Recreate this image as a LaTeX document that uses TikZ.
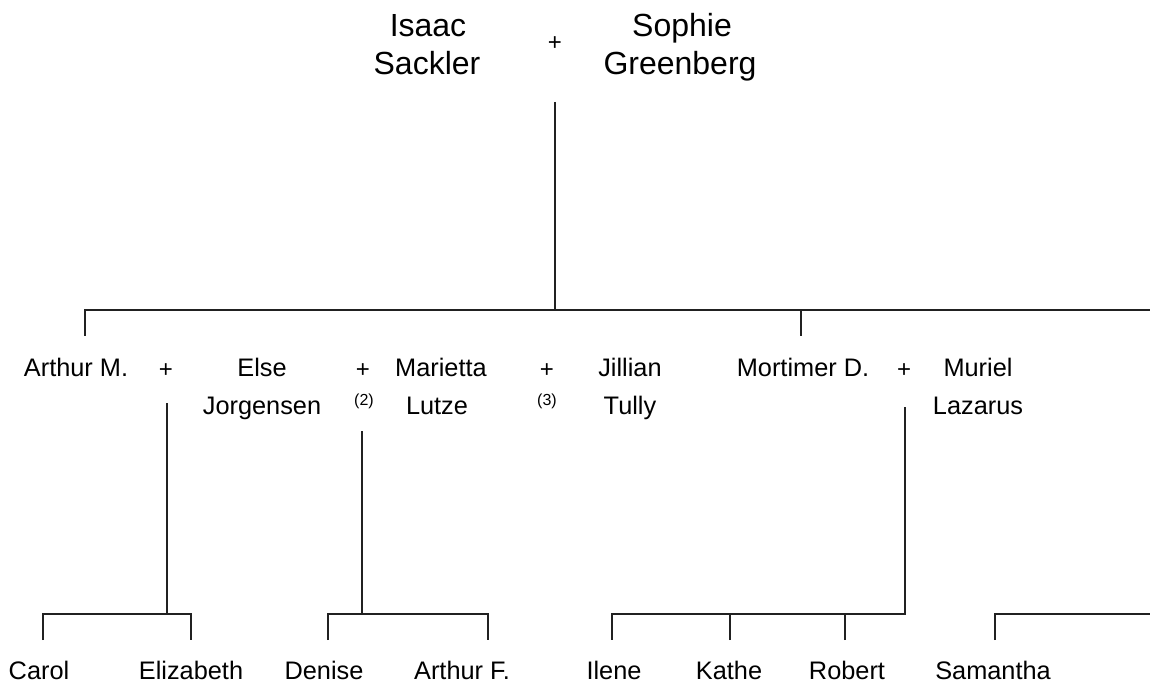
\documentclass[tikz,border=0pt]{standalone}
\usepackage{fontspec}
\setmainfont{Liberation Sans}
\begin{document}
\begin{tikzpicture}[x=0.75pt,y=-0.75pt]

    \tikzset{
      parent/.style={
        anchor=base,
        inner sep=0pt,
        font=\fontsize{24}{28}\selectfont,
      },
      person/.style={
        anchor=base,
        inner sep=0pt,
        font=\fontsize{19}{23}\selectfont,
      },
      wed/.style={
        anchor=center,
        inner sep=0pt,
        font=\fontsize{18}{22}\selectfont,
      },
      wedno/.style={
        anchor=center,
        inner sep=0pt,
        font=\fontsize{12}{14}\selectfont,
      },
      line/.style={
        color=black!87,
        line width=2pt,
      },
    }
    \useasboundingbox (0,0) rectangle (1150,684);

	\node[parent] (isaac) at (428,37) {Isaac};
	\node[parent] (isaacB) at (427,75) {Sackler};
	\node[wed] (wedTop) at (555,44) {+};
	\node[parent] (sophie) at (682,37) {Sophie};
	\node[parent] (sophieB) at (680,75) {Greenberg};

	\node[person] (arthurM) at (76,377) {Arthur M.};
	\node[wed] (wedA) at (166,371) {+};
	\node[person] (else) at (262,377) {Else};
	\node[person] (elseB) at (262,415) {Jorgensen};
	\node[wed] (wedB) at (363,371) {+};
	\node[wedno] (wedBno) at (364,401) {(2)};
	\node[person] (marietta) at (441,377) {Marietta};
	\node[person] (mariettaB) at (437,415) {Lutze};
	\node[wed] (wedC) at (547,371) {+};
	\node[wedno] (wedCno) at (547,401) {(3)};
	\node[person] (jillian) at (630,377) {Jillian};
	\node[person] (jillianB) at (630,415) {Tully};
	\node[person] (mortimer) at (803,377) {Mortimer D.};
	\node[wed] (wedD) at (904,371) {+};
	\node[person] (muriel) at (978,377) {Muriel};
	\node[person] (murielB) at (978,415) {Lazarus};

	\node[person] (carol) at (39,679) {Carol};
	\node[person] (elizabeth) at (191,679) {Elizabeth};
	\node[person] (denise) at (324,679) {Denise};
	\node[person] (arthurF) at (462,679) {Arthur F.};
	\node[person] (ilene) at (614,679) {Ilene};
	\node[person] (kathe) at (729,679) {Kathe};
	\node[person] (robert) at (847,679) {Robert};
	\node[person] (samantha) at (993,679) {Samantha};

	\coordinate (rootTop) at (555,102);
	\coordinate (rootBar) at (555,310);
	\coordinate (barL) at (85,310);
	\coordinate (barR) at (1150,310);
	\coordinate (barM) at (801,310);
	\coordinate (tickArthur) at (85,336);
	\coordinate (tickMortimer) at (801,336);

	\coordinate (dropA) at (167,403);
	\coordinate (dropB) at (362,431);
	\coordinate (dropD) at (905,407);
	\coordinate (dropAend) at (167,614);
	\coordinate (dropBend) at (362,614);
	\coordinate (dropDend) at (905,614);

	\coordinate (tickCarol) at (43,640);
	\coordinate (tickElizabeth) at (191,640);
	\coordinate (tickDenise) at (328,640);
	\coordinate (tickArthurF) at (488,640);
	\coordinate (tickIlene) at (612,640);
	\coordinate (tickKathe) at (730,640);
	\coordinate (tickRobert) at (845,640);
	\coordinate (tickSamantha) at (995,640);
	\coordinate (samR) at (1150,614);

	\draw[line] (rootTop) -- (rootBar);
	\draw[line] (tickArthur) -- (barL) -- (barR);
	\draw[line] (barM) -- (tickMortimer);

	\draw[line] (dropA) -- (dropAend);
	\draw[line] (tickCarol) |- (dropAend) -| (tickElizabeth);
	\draw[line] (dropB) -- (dropBend);
	\draw[line] (tickDenise) |- (dropBend) -| (tickArthurF);
	\draw[line] (dropD) -- (dropDend) -| (tickIlene);
	\draw[line] (tickKathe) -- (tickKathe |- dropDend);
	\draw[line] (tickRobert) -- (tickRobert |- dropDend);
	\draw[line] (tickSamantha) |- (samR);

\end{tikzpicture}
\end{document}
